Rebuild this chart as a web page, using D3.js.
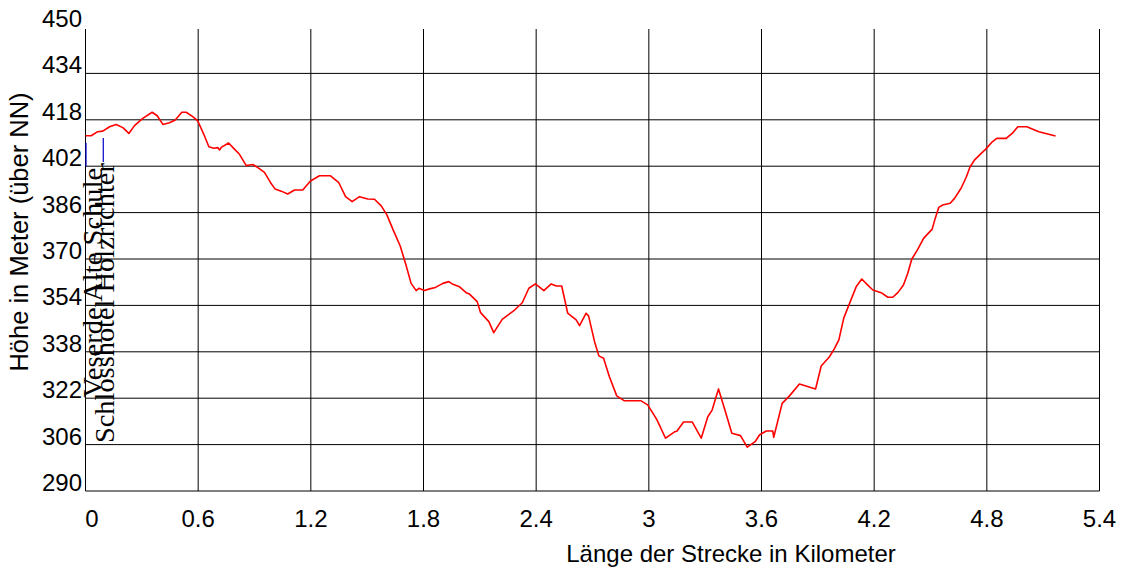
<!DOCTYPE html>
<html><head><meta charset="utf-8">
<script src="https://cdn.jsdelivr.net/npm/d3@7"></script>
<style>html,body{margin:0;padding:0;background:#fff;}svg{display:block}</style>
</head><body>
<script>
// ---- data ----
const distanceKm = [0.000,0.030,0.065,0.092,0.128,0.163,0.199,0.231,0.261,0.305,0.355,0.382,0.412,0.447,0.478,0.513,0.536,0.571,0.598,0.630,0.657,0.683,0.705,0.714,0.723,0.762,0.793,0.820,0.856,0.873,0.891,0.918,0.953,0.985,1.010,1.042,1.077,1.113,1.157,1.198,1.246,1.290,1.305,1.349,1.385,1.420,1.459,1.503,1.539,1.575,1.605,1.640,1.676,1.704,1.734,1.761,1.775,1.805,1.832,1.864,1.903,1.935,1.953,1.992,2.027,2.045,2.086,2.104,2.148,2.174,2.219,2.285,2.326,2.361,2.396,2.441,2.480,2.507,2.536,2.568,2.613,2.631,2.666,2.679,2.711,2.734,2.759,2.790,2.829,2.870,2.959,2.994,3.042,3.089,3.137,3.149,3.185,3.231,3.279,3.314,3.337,3.371,3.408,3.442,3.488,3.524,3.566,3.589,3.625,3.660,3.665,3.710,3.749,3.802,3.888,3.918,3.962,3.989,4.012,4.038,4.069,4.104,4.134,4.166,4.193,4.237,4.273,4.299,4.326,4.356,4.379,4.400,4.432,4.463,4.509,4.525,4.544,4.565,4.605,4.628,4.663,4.690,4.711,4.734,4.770,4.793,4.829,4.853,4.903,4.935,4.965,5.013,5.077,5.166];
const elevationM = [412.5,412.5,413.9,414.1,415.6,416.4,415.3,413.3,416.0,418.5,420.6,419.4,416.4,417.0,417.9,420.6,420.6,419.1,417.6,413.0,408.7,408.2,408.4,407.6,408.5,410.0,407.9,406.1,402.2,402.4,402.6,401.5,399.9,396.4,394.1,393.4,392.4,393.8,393.8,396.9,398.7,398.7,398.7,396.3,391.5,389.8,391.5,390.7,390.6,388.3,385.2,379.8,374.5,368.5,361.6,359.1,359.9,359.1,359.7,360.2,361.6,362.2,361.4,360.4,358.4,357.9,355.3,351.5,348.4,344.6,349.2,352.4,354.9,359.9,361.4,359.1,361.4,360.7,360.7,351.3,349.0,347.0,351.3,350.4,341.5,336.6,335.8,329.4,322.8,321.1,321.1,319.7,314.7,308.2,310.4,310.6,313.8,313.8,308.2,315.6,317.9,325.2,317.3,309.9,309.1,305.1,307.0,309.3,310.7,310.7,308.5,320.2,322.8,326.9,325.2,333.1,336.3,339.2,342.1,349.6,354.7,360.4,363.1,361.0,359.3,358.4,356.8,356.8,358.4,361.0,365.1,369.9,373.3,377.1,380.3,384.0,387.8,388.6,389.2,390.9,394.4,398.2,401.8,404.1,406.4,407.8,410.4,411.6,411.6,413.3,415.6,415.6,413.9,412.4];
const xTicks = [0,0.6,1.2,1.8,2.4,3.0,3.6,4.2,4.8,5.4];
const xTickLabels = ["0","0.6","1.2","1.8","2.4","3","3.6","4.2","4.8","5.4"];
const yTicks = [290,306,322,338,354,370,386,402,418,434,450];
const markerNames = ["Veserde Alte Schule","Schlosshotel Holzrichter"];
const markerKm = [0,0.092];
const yTitle = "Höhe in Meter (über NN)";
const xTitle = "Länge der Strecke in Kilometer";

// ---- drawing ----
const W = 1123, H = 573;
const svg = d3.select("body").append("svg").attr("width", W).attr("height", H);
const x = d3.scaleLinear().domain([0, 5.4]).range([85.5, 1099.5]);
const y = d3.scaleLinear().domain([290, 450]).range([491, 27]);
const sans = "'Liberation Sans', Arial, sans-serif";
const serif = "'Liberation Serif', 'Times New Roman', serif";

const grid = svg.append("g");
grid.selectAll("line.h").data(yTicks.filter(t => t < 450)).enter().append("line")
  .attr("x1", x(0)).attr("x2", x(5.4)).attr("y1", d => y(d)).attr("y2", d => y(d))
  .attr("stroke", "#000").attr("stroke-width", 1);
grid.selectAll("line.v").data(xTicks).enter().append("line")
  .attr("x1", d => x(d)).attr("x2", d => x(d)).attr("y1", y(290)).attr("y2", 29)
  .attr("stroke", "#000").attr("stroke-width", 1);

svg.append("g").selectAll("text").data(yTicks).enter().append("text")
  .attr("x", 82).attr("y", d => y(d))
  .attr("text-anchor", "end").attr("font-family", sans).attr("font-size", 24).attr("fill", "#000")
  .text(d => d);
svg.append("g").selectAll("text").data(xTicks).enter().append("text")
  .attr("x", (d, i) => x(d) + (i === 0 ? 6.5 : 0)).attr("y", 527)
  .attr("text-anchor", "middle").attr("font-family", sans).attr("font-size", 24).attr("fill", "#000")
  .text((d, i) => xTickLabels[i]);

svg.append("text").attr("transform", "translate(28,232) rotate(-90)")
  .attr("text-anchor", "middle").attr("font-family", sans).attr("font-size", 25.5).attr("fill", "#000")
  .text(yTitle);
svg.append("text").attr("x", 731).attr("y", 562)
  .attr("text-anchor", "middle").attr("font-family", sans).attr("font-size", 24).attr("fill", "#000")
  .text(xTitle);

const pts = distanceKm.map((d, i) => [d, elevationM[i]]);
const elevAt = km => {
  let best = pts[0];
  pts.forEach(p => { if (Math.abs(p[0] - km) < Math.abs(best[0] - km)) best = p; });
  return best[1];
};
const labelOffsets = [16, 11];
const labelLengths = [230, 280];
markerKm.forEach((km, i) => {
  const mx = x(km) + 0.5;
  const top = y(elevAt(km)) + 7;
  const bottom = top + 24;
  svg.append("line").attr("x1", mx).attr("x2", mx).attr("y1", top).attr("y2", bottom)
    .attr("stroke", "#0000cc").attr("stroke-width", 1.2);
  svg.append("text")
    .attr("transform", `translate(${mx + labelOffsets[i]},${bottom + 1}) rotate(-90)`)
    .attr("text-anchor", "end").attr("font-family", serif).attr("font-size", 28).attr("fill", "#000")
    .attr("textLength", labelLengths[i]).attr("lengthAdjust", "spacingAndGlyphs")
    .text(markerNames[i]);
});

const line = d3.line().x(d => x(d[0])).y(d => y(d[1]));
svg.append("path").datum(pts).attr("d", line)
  .attr("fill", "none").attr("stroke", "#ff0000").attr("stroke-width", 1.6).attr("stroke-linejoin", "round");
</script>
</body></html>
